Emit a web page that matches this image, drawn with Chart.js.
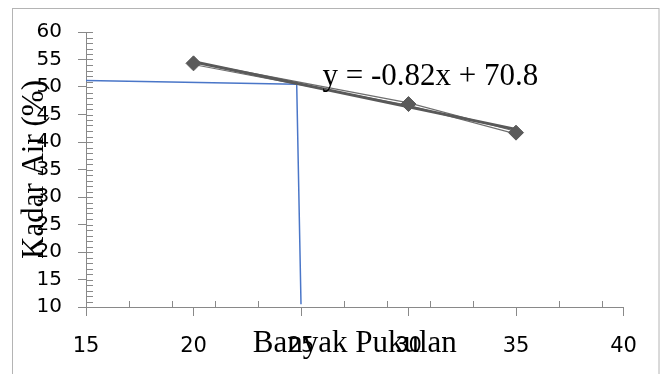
<!DOCTYPE html>
<html>
<head>
<meta charset="utf-8">
<script src="https://cdn.jsdelivr.net/npm/chart.js@4.4.1/dist/chart.umd.min.js"></script>
<style>
  html, body { margin: 0; padding: 0; background: #fff; }
  #wrap { width: 663px; height: 374px; }
</style>
</head>
<body>
<div id="wrap"><canvas id="chart" width="663" height="374"></canvas></div>
<script>
// data
const blowsX = [20, 30, 35];
const moistureY = [54.3, 46.9, 41.7];
const trendX = [20, 35];
const trendY = [54.6, 42.3];
const guideX = [15, 24.8, 25.0];
const guideY = [51.2, 50.5, 10.5];
const xTicks = [15, 20, 25, 30, 35, 40];
const yTicks = [10, 15, 20, 25, 30, 35, 40, 45, 50, 55, 60];
const xMinorTicks = [17, 19, 21, 23, 27, 29, 31, 33, 37, 39];
const equationText = "y = -0.82x + 70.8";
const equationAt = [26.0, 50.4];

const AXIS_COLOR = "#898989";
const toPoints = (xs, ys) => xs.map((x, i) => ({ x: x, y: ys[i] }));

// outer frame, minor ticks and the trend equation
const chartExtras = {
  id: "chartExtras",
  beforeDraw: (chart) => {
    const ctx = chart.ctx;
    ctx.save();
    ctx.fillStyle = "#ffffff";
    ctx.fillRect(0, 0, chart.width, chart.height);
    ctx.strokeStyle = "#b4b4b4";
    ctx.lineWidth = 1;
    ctx.strokeRect(12.5, 8.5, 646.5, 400);
    ctx.restore();
  },
  beforeDatasetsDraw: (chart) => {
    const ctx = chart.ctx;
    const xs = chart.scales.x;
    const ys = chart.scales.y;
    const left = chart.chartArea.left;
    const bottom = chart.chartArea.bottom;
    ctx.save();
    ctx.strokeStyle = AXIS_COLOR;
    ctx.lineWidth = 1;
    ctx.beginPath();
    for (let v = yTicks[0]; v <= yTicks[yTicks.length - 1]; v++) {
      const py = Math.round(ys.getPixelForValue(v)) + 0.5;
      ctx.moveTo(left, py);
      ctx.lineTo(left + 7, py);
    }
    xMinorTicks.forEach((v) => {
      const px = Math.round(xs.getPixelForValue(v)) + 0.5;
      ctx.moveTo(px, bottom);
      ctx.lineTo(px, bottom - 6);
    });
    ctx.stroke();
    ctx.restore();
  },
  afterDraw: (chart) => {
    const ctx = chart.ctx;
    ctx.save();
    ctx.fillStyle = "#000000";
    ctx.font = "31px 'Liberation Serif'";
    ctx.textAlign = "left";
    ctx.textBaseline = "alphabetic";
    ctx.fillText(
      equationText,
      chart.scales.x.getPixelForValue(equationAt[0]),
      chart.scales.y.getPixelForValue(equationAt[1])
    );
    ctx.restore();
  },
};

Chart.defaults.font.family = "'DejaVu Sans'";
Chart.defaults.color = "#000000";

new Chart(document.getElementById("chart").getContext("2d"), {
  type: "line",
  data: {
    datasets: [
      {
        // markers on top
        data: toPoints(blowsX, moistureY),
        showLine: false,
        pointStyle: "rectRot",
        pointRadius: 7.5,
        pointBackgroundColor: "#5a5a5a",
        pointBorderColor: "#5a5a5a",
        pointBorderWidth: 1,
      },
      {
        // linear trend line
        data: toPoints(trendX, trendY),
        borderColor: "#595959",
        borderWidth: 3,
        pointRadius: 0,
      },
      {
        data: toPoints(blowsX, moistureY),
        borderColor: "#ffffff",
        borderWidth: 1.2,
        pointRadius: 0,
      },
      {
        data: toPoints(blowsX, moistureY),
        borderColor: "#6e6e6e",
        borderWidth: 3.6,
        pointRadius: 0,
      },
      {
        // blue reading guide at 25 blows
        data: toPoints(guideX, guideY),
        borderColor: "#4a76c8",
        borderWidth: 1.5,
        pointRadius: 0,
      },
    ],
  },
  options: {
    responsive: false,
    animation: false,
    layout: { padding: { left: 12, top: 32, right: 39.5, bottom: 0 } },
    plugins: {
      legend: { display: false },
      tooltip: { enabled: false },
    },
    scales: {
      x: {
        type: "linear",
        min: 15,
        max: 40,
        afterBuildTicks: (scale) => {
          scale.ticks = xTicks.map((v) => ({ value: v }));
        },
        afterFit: (scale) => {
          scale.height = 67;
        },
        grid: {
          drawOnChartArea: false,
          drawTicks: true,
          tickLength: 9,
          color: AXIS_COLOR,
        },
        border: { display: true, color: AXIS_COLOR, width: 1 },
        ticks: {
          padding: 18,
          maxRotation: 0,
          font: { size: 21 },
          color: "#000000",
        },
        title: {
          display: true,
          text: "Banyak Pukulan",
          font: { family: "'Liberation Serif'", size: 31, lineHeight: 1 },
          color: "#000000",
          padding: { top: 0, bottom: 15 },
        },
      },
      y: {
        type: "linear",
        min: 10,
        max: 60,
        afterBuildTicks: (scale) => {
          scale.ticks = yTicks.map((v) => ({ value: v }));
        },
        afterFit: (scale) => {
          scale.width = 74;
        },
        grid: {
          drawOnChartArea: false,
          drawTicks: true,
          tickLength: 8,
          color: AXIS_COLOR,
        },
        border: { display: true, color: AXIS_COLOR, width: 1 },
        ticks: {
          padding: 16,
          font: { size: 20 },
          color: "#000000",
        },
        title: {
          display: true,
          text: "Kadar Air (%)",
          font: { family: "'Liberation Serif'", size: 31, lineHeight: 1 },
          color: "#000000",
          padding: { top: 7, bottom: 0 },
        },
      },
    },
  },
  plugins: [chartExtras],
});
</script>
</body>
</html>
